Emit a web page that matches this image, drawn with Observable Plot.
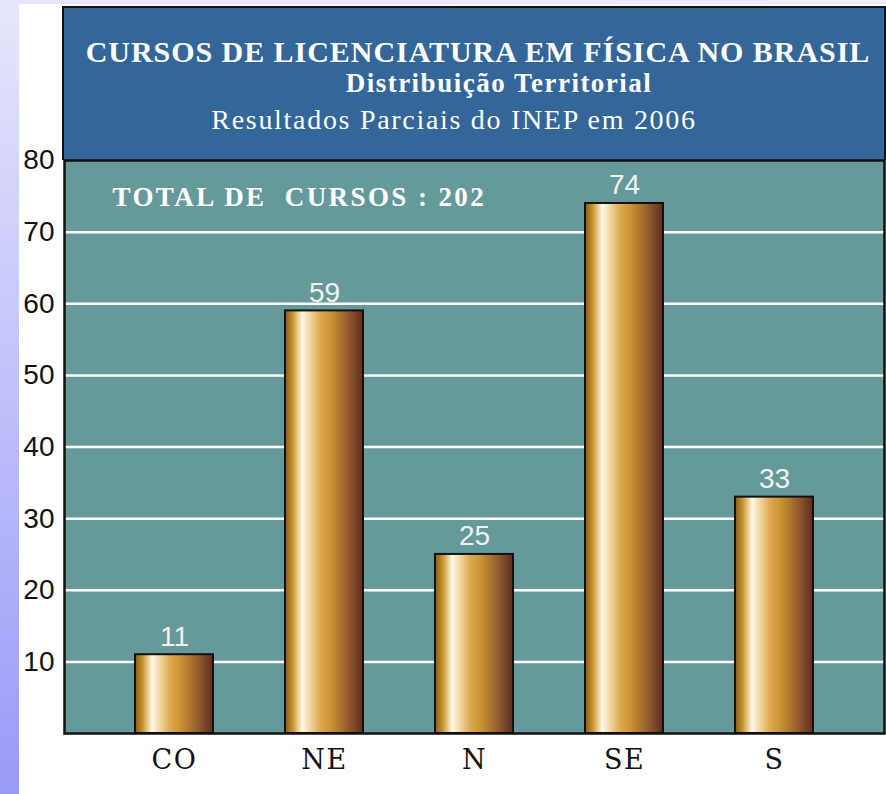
<!DOCTYPE html>
<html>
<head>
<meta charset="utf-8">
<script src="https://cdn.jsdelivr.net/npm/d3@7"></script>
<script src="https://cdn.jsdelivr.net/npm/@observablehq/plot@0.6"></script>
<style>
  html, body { margin: 0; padding: 0; }
  body { width: 886px; height: 794px; overflow: hidden; background: #ffffff; position: relative; }
  #strip-left { position: absolute; left: 0; top: 0; width: 19px; height: 794px;
    background: linear-gradient(to bottom, #e6e6fb 0%, #c4c4fb 45%, #9a9af8 100%); }
  #strip-top { position: absolute; left: 0; top: 0; width: 886px; height: 4px;
    background: linear-gradient(to right, #e6e6fb, #ededfc); }
  #titlebox { position: absolute; left: 62px; top: 6px; width: 820px; height: 152px;
    background: #336699; border: 2px solid #111; border-bottom: none; }
  .t { position: absolute; color: #ffffff; white-space: nowrap; transform: translateX(-50%);
    font-family: "Liberation Serif", "Times New Roman", serif; line-height: 1; }
  #t1 { left: 414px; top: 29px; font-size: 30px; font-weight: bold; letter-spacing: 0.95px; }
  #t2 { left: 435px; top: 62px; font-size: 27px; font-weight: bold; letter-spacing: 1.5px; }
  #t3 { left: 390px; top: 98px; font-size: 28px; font-weight: normal; letter-spacing: 1.7px; }
  #chart { position: absolute; left: 0; top: 140px; }
</style>
</head>
<body>
<div id="strip-left"></div>
<div id="strip-top"></div>
<div id="titlebox">
  <div class="t" id="t1"></div>
  <div class="t" id="t2"></div>
  <div class="t" id="t3"></div>
</div>
<div id="chart"></div>
<script>
// ---- data ----
const categories = ["CO", "NE", "N", "SE", "S"];
const courses = [11, 59, 25, 74, 33];
const yTicks = [10, 20, 30, 40, 50, 60, 70, 80];
const gridValues = [10, 20, 30, 40, 50, 60, 70];
const titleLines = [
  "CURSOS DE LICENCIATURA EM FÍSICA NO BRASIL",
  "Distribuição Territorial",
  "Resultados Parciais do INEP em 2006"
];
const totalLabel = ["TOTAL DE  CURSOS : 202"];

const table = categories.map((c, i) => ({ region: c, value: courses[i] }));

document.getElementById("t1").textContent = titleLines[0];
document.getElementById("t2").textContent = titleLines[1];
document.getElementById("t3").textContent = titleLines[2];

const chart = Plot.plot({
  width: 886,
  height: 654,
  marginTop: 20,
  marginBottom: 61,
  marginLeft: 64,
  marginRight: 2,
  style: { background: "transparent", overflow: "visible" },
  x: { domain: categories, paddingInner: 0.477, paddingOuter: 0.457, axis: null },
  y: { domain: [0, 80], axis: null },
  marks: [
    Plot.frame({ fill: "#669999", stroke: "none" }),
    Plot.ruleY(gridValues, { stroke: "#ffffff", strokeWidth: 2.5 }),
    Plot.barY(table, {
      x: "region", y: "value",
      fill: "url(#barGold)", stroke: "#111111", strokeWidth: 2
    }),
    Plot.text(table, {
      x: "region", y: "value", text: d => String(d.value),
      lineAnchor: "bottom", dy: -9,
      fill: "#f2f2f2", fontSize: 28,
      fontFamily: "Liberation Sans, Arial, sans-serif"
    }),
    Plot.text(yTicks, {
      y: d => d, text: d => String(d),
      frameAnchor: "left", textAnchor: "end", dx: -10,
      fill: "#111111", fontSize: 28,
      fontFamily: "Liberation Sans, Arial, sans-serif"
    }),
    Plot.text(categories, {
      x: d => d, text: d => d,
      frameAnchor: "bottom", lineAnchor: "middle", dy: 27,
      fill: "#111111", fontSize: 27,
      fontFamily: "DejaVu Serif, serif"
    }),
    Plot.text(totalLabel, {
      frameAnchor: "top-left", textAnchor: "start", lineAnchor: "middle",
      dx: 48, dy: 37,
      fill: "#ffffff", fontSize: 27, fontWeight: "bold",
      fontFamily: "Liberation Serif, Times New Roman, serif"
    }),
    Plot.frame({ stroke: "#111111", strokeWidth: 2.5, fill: "none" })
  ]
});

// gradient definition for the bars
const svgNs = "http://www.w3.org/2000/svg";
const defs = document.createElementNS(svgNs, "defs");
defs.innerHTML = `
  <linearGradient id="barGold" x1="0" y1="0" x2="1" y2="0">
    <stop offset="0%" stop-color="#8a5a10"/>
    <stop offset="10%" stop-color="#c8962c"/>
    <stop offset="22%" stop-color="#fff8e6"/>
    <stop offset="30%" stop-color="#f4ddb0"/>
    <stop offset="45%" stop-color="#dcaa50"/>
    <stop offset="58%" stop-color="#cc9432"/>
    <stop offset="78%" stop-color="#9a6430"/>
    <stop offset="100%" stop-color="#5e2c20"/>
  </linearGradient>`;
chart.insertBefore(defs, chart.firstChild);
// letter spacing on text labels
const sel = d3.select(chart).selectAll("text");
sel.filter(function () { return this.textContent === totalLabel[0]; }).style("letter-spacing", "2.4px");
sel.filter(function () { return categories.includes(this.textContent); }).style("letter-spacing", "1.5px");

document.getElementById("chart").appendChild(chart);
</script>
</body>
</html>
